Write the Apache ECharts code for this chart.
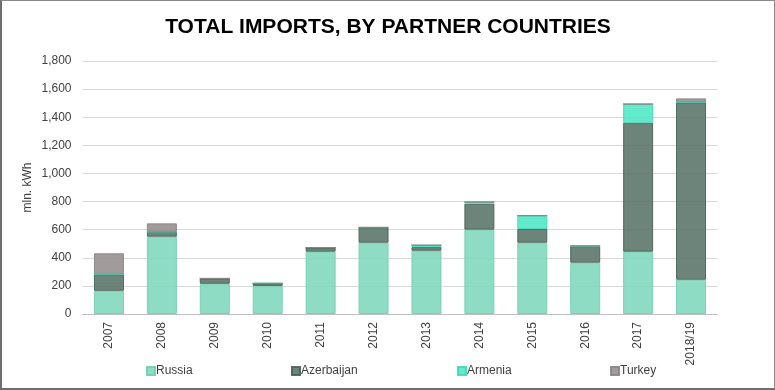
<!DOCTYPE html>
<html><head><meta charset="utf-8">
<script src="https://cdn.jsdelivr.net/npm/echarts@6/dist/echarts.min.js"></script>
<style>html,body{margin:0;padding:0;background:#fff}#c{width:775px;height:390px;box-sizing:border-box;border:1px solid #8a8a8a;border-bottom:2px solid #6e6e6e;border-left:2px solid #6e6e6e}</style>
</head><body><div id="c"></div>
<script>
const categories = ['2007','2008','2009','2010','2011','2012','2013','2014','2015','2016','2017','2018/19'];
const russia     = [165, 550, 215, 200, 443, 507, 450, 600, 507, 365, 443, 244];
const azerbaijan = [117,  35,  38,  18,  30, 108,  26, 185,  98, 118, 918, 1262];
const armenia    = [  0,   0,   0,   0,   0,   0,  14,  12,  95,   0, 133,   0];
const turkey     = [150,  60,   0,   0,   0,   3,   0,   0,   0,   3,   0,  28];
const yTicks = [0, 200, 400, 600, 800, 1000, 1200, 1400, 1600, 1800];

const chart = echarts.init(document.getElementById('c'), null, {renderer:'canvas'});
const mk = (name, data, color, border) => ({
  name, type:'bar', stack:'t', data, barWidth: 30,
  itemStyle:{color, borderColor:border, borderWidth:1, opacity:0.92}
});
const legendBase = {
  top: 364, padding: 0, itemWidth: 8, itemHeight: 8, icon: 'rect', itemGap: 2,
  textStyle:{fontFamily:'Liberation Sans, Arial, sans-serif', fontSize:12, color:'#404040', padding:[0,0,0,-4]}
};
chart.setOption({
  animation:false,
  title:{text:'TOTAL IMPORTS, BY PARTNER COUNTRIES', left:'center', top:11,
    textStyle:{fontFamily:'Liberation Sans, Arial, sans-serif', fontWeight:'bold', fontSize:21, color:'#000'}},
  grid:{left:80.5, right:56.5, top:60, bottom:74, containLabel:false},
  legend:[
    Object.assign({}, legendBase, {left:144, data:['Russia']}),
    Object.assign({}, legendBase, {left:289, data:['Azerbaijan']}),
    Object.assign({}, legendBase, {left:455, data:['Armenia']}),
    Object.assign({}, legendBase, {left:608, data:['Turkey']})
  ],
  xAxis:{type:'category', data:categories,
    axisLine:{lineStyle:{color:'#bfbfbf', width:1}}, axisTick:{show:false},
    axisLabel:{rotate:90, fontFamily:'Liberation Sans, Arial, sans-serif', fontSize:12, color:'#404040', margin:8, interval:0}},
  yAxis:{type:'value', min:0, max:1800, interval:200,
    name:'mln. kWh', nameLocation:'middle', nameGap:49, nameRotate:90, nameMoveOverlap:false,
    nameTextStyle:{fontFamily:'Liberation Sans, Arial, sans-serif', fontSize:12, color:'#404040'},
    axisLine:{show:false}, axisTick:{show:false},
    splitLine:{lineStyle:{color:'#d9d9d9', width:1}},
    axisLabel:{fontFamily:'Liberation Sans, Arial, sans-serif', fontSize:12, color:'#404040', margin:11,
      formatter: v => yTicks.includes(v) ? v.toLocaleString('en-US') : ''}},
  series:[
    mk('Russia', russia, '#86d9c0', '#74ceb2'),
    mk('Azerbaijan', azerbaijan, '#5f7a6e', '#4b6358'),
    mk('Armenia', armenia, '#55e9c6', '#3fdcb8'),
    mk('Turkey', turkey, '#999393', '#8a8585')
  ]
});
</script></body></html>
